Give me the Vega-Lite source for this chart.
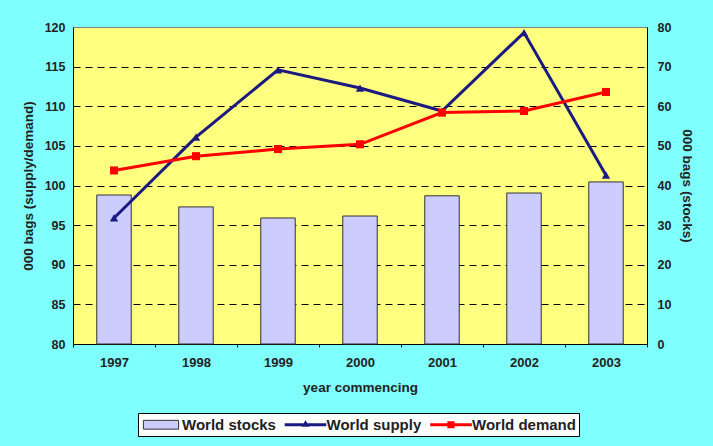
{
  "$schema": "https://vega.github.io/schema/vega-lite/v6.json",
  "width": 574,
  "height": 317,
  "autosize": {"type": "none"},
  "padding": {"left": 73, "top": 27, "right": 66, "bottom": 102},
  "background": "#80FFFF",
  "config": {
    "view": {"fill": "#FFFF80", "stroke": "#808080", "strokeWidth": 1},
    "font": "Liberation Sans",
    "axis": {
      "labelFont": "Liberation Sans",
      "labelFontSize": 12.5,
      "labelFontWeight": "bold",
      "labelColor": "#222222",
      "titleFont": "Liberation Sans",
      "titleFontSize": 13.5,
      "titleFontWeight": "bold",
      "titleColor": "#222222",
      "domainColor": "#000000",
      "tickColor": "#000000"
    },
    "legend": {
      "labelFont": "Liberation Sans",
      "labelFontSize": 15,
      "labelFontWeight": "bold",
      "labelColor": "#222222",
      "symbolStrokeWidth": 1
    }
  },
  "data": {
    "values": [
      {"year": "1997", "series": "World stocks", "value": 37.6},
      {"year": "1998", "series": "World stocks", "value": 34.6},
      {"year": "1999", "series": "World stocks", "value": 31.8},
      {"year": "2000", "series": "World stocks", "value": 32.3},
      {"year": "2001", "series": "World stocks", "value": 37.4},
      {"year": "2002", "series": "World stocks", "value": 38.1},
      {"year": "2003", "series": "World stocks", "value": 40.9},
      {"year": "1997", "series": "World supply", "value": 95.9},
      {"year": "1998", "series": "World supply", "value": 106.1},
      {"year": "1999", "series": "World supply", "value": 114.6},
      {"year": "2000", "series": "World supply", "value": 112.3},
      {"year": "2001", "series": "World supply", "value": 109.4},
      {"year": "2002", "series": "World supply", "value": 119.3},
      {"year": "2003", "series": "World supply", "value": 101.3},
      {"year": "1997", "series": "World demand", "value": 101.9},
      {"year": "1998", "series": "World demand", "value": 103.7},
      {"year": "1999", "series": "World demand", "value": 104.6},
      {"year": "2000", "series": "World demand", "value": 105.2},
      {"year": "2001", "series": "World demand", "value": 109.2},
      {"year": "2002", "series": "World demand", "value": 109.4},
      {"year": "2003", "series": "World demand", "value": 111.8}
    ]
  },
  "encoding": {
    "x": {
      "field": "year",
      "type": "nominal",
      "scale": {"paddingInner": 0, "paddingOuter": 0},
      "axis": {
        "title": "year commencing",
        "labelAngle": 0,
        "labelFontSize": 13,
        "tickBand": "extent",
        "tickSize": 3,
        "labelPadding": 9,
        "titlePadding": 11,
        "grid": false
      }
    }
  },
  "layer": [
    {
      "transform": [{"filter": "datum.series === 'World stocks'"}],
      "encoding": {
        "y": {
          "field": "value",
          "type": "quantitative",
          "scale": {"domain": [0, 80], "nice": false},
          "axis": {
            "orient": "right",
            "title": "000 bags (stocks)",
            "values": [0, 10, 20, 30, 40, 50, 60, 70, 80],
            "grid": false,
            "ticks": false,
            "labelPadding": 10,
            "titlePadding": 9
          }
        },
        "color": {
          "field": "series",
          "type": "nominal",
          "scale": {
            "domain": ["World stocks", "World supply", "World demand"],
            "range": ["#CCCCFF", "#1A1A80", "#FF0000"]
          },
          "legend": {
            "title": null,
            "orient": "none",
            "legendX": 65,
            "legendY": 386,
            "direction": "horizontal",
            "strokeColor": "#000000",
            "fillColor": "#FFFFFF",
            "padding": 3,
            "symbolSize": 256,
            "symbolOffset": 11.5,
            "labelOffset": 12.5,
            "columnPadding": 6.5,
            "symbolOpacity": 1
          }
        }
      },
      "layer": [
        {
          "mark": {"type": "bar", "width": {"band": 0.42}, "stroke": "#333333", "strokeWidth": 1}
        },
        {
          "mark": {"type": "point", "filled": true, "opacity": 0},
          "encoding": {
            "shape": {
              "field": "series",
              "type": "nominal",
              "scale": {
                "domain": ["World stocks", "World supply", "World demand"],
                "range": [
                  "M-2.2,-0.55H2.2V0.55H-2.2Z",
                  "M-2.6,-0.2H2.6V0.2H-2.6Z M-0.5,0.25L0,-0.55L0.5,0.25Z",
                  "M-2.6,-0.2H2.6V0.2H-2.6Z M-0.45,-0.45H0.45V0.45H-0.45Z"
                ]
              },
              "legend": {
                "title": null,
                "orient": "none",
                "legendX": 65,
                "legendY": 386,
                "direction": "horizontal",
                "strokeColor": "#000000",
                "fillColor": "#FFFFFF",
                "padding": 3,
                "symbolSize": 256,
                "symbolOffset": 11.5,
                "labelOffset": 12.5,
                "columnPadding": 6.5,
                "symbolOpacity": 1
              }
            },
            "stroke": {
              "field": "series",
              "type": "nominal",
              "scale": {
                "domain": ["World stocks", "World supply", "World demand"],
                "range": ["#333333", "transparent", "transparent"]
              },
              "legend": {
                "title": null,
                "orient": "none",
                "legendX": 65,
                "legendY": 386,
                "direction": "horizontal",
                "strokeColor": "#000000",
                "fillColor": "#FFFFFF",
                "padding": 3,
                "symbolSize": 256,
                "symbolOffset": 11.5,
                "labelOffset": 12.5,
                "columnPadding": 6.5,
                "symbolOpacity": 1
              }
            }
          }
        }
      ]
    },
    {
      "encoding": {
        "y": {
          "field": "value",
          "type": "quantitative",
          "scale": {"domain": [80, 120], "nice": false},
          "axis": {
            "orient": "left",
            "title": "000 bags (supply/demand)",
            "values": [80, 85, 90, 95, 100, 105, 110, 115, 120],
            "ticks": false,
            "labelPadding": 8,
            "titlePadding": 9,
            "grid": true,
            "gridColor": "#000000",
            "gridDash": [7, 5],
            "gridWidth": 1,
            "gridOpacity": {"condition": {"test": "datum.value == 80 || datum.value == 120", "value": 0}, "value": 1}
          }
        }
      },
      "layer": [
        {
          "transform": [{"filter": "datum.series === 'World supply'"}],
          "mark": {"type": "line", "strokeWidth": 3, "color": "#1A1A80"}
        },
        {
          "transform": [{"filter": "datum.series === 'World supply'"}],
          "mark": {"type": "point", "shape": "triangle-up", "size": 70, "filled": true, "opacity": 1, "color": "#1A1A80"}
        },
        {
          "transform": [{"filter": "datum.series === 'World demand'"}],
          "mark": {"type": "line", "strokeWidth": 3, "color": "#FF0000"}
        },
        {
          "transform": [{"filter": "datum.series === 'World demand'"}],
          "mark": {"type": "point", "shape": "square", "size": 65, "filled": true, "opacity": 1, "color": "#FF0000"}
        }
      ]
    }
  ],
  "resolve": {"scale": {"y": "independent"}}
}
